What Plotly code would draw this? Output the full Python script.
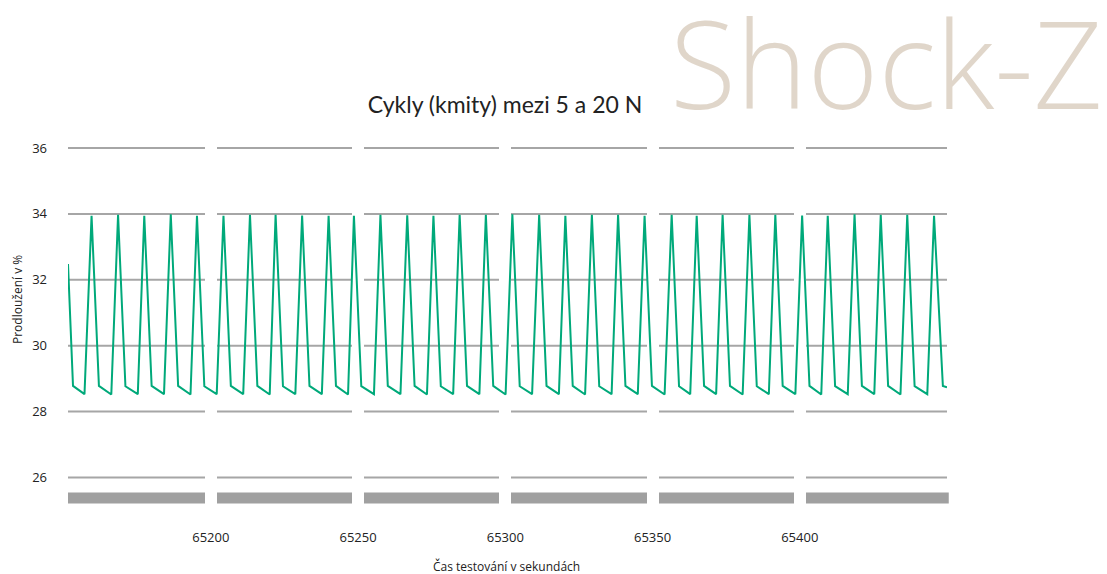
import plotly.graph_objects as go

# ---- data ----
time_s = [
    65151.5, 65153.2, 65157.1,
    65159.5, 65162.0, 65166.2,
    65168.5, 65171.0, 65175.2,
    65177.4, 65179.9, 65184.1,
    65186.4, 65188.9, 65193.1,
    65195.3, 65197.8, 65202.0,
    65204.3, 65206.8, 65211.0,
    65213.3, 65215.8, 65220.0,
    65222.0, 65224.5, 65228.7,
    65231.0, 65233.5, 65237.7,
    65240.0, 65242.5, 65246.6,
    65248.6, 65251.1, 65255.4,
    65257.6, 65260.1, 65264.4,
    65266.7, 65269.2, 65273.4,
    65275.6, 65278.1, 65282.3,
    65284.5, 65287.0, 65291.2,
    65293.4, 65295.9, 65300.1,
    65302.4, 65304.9, 65309.1,
    65311.5, 65314.0, 65318.2,
    65320.4, 65322.9, 65327.1,
    65329.4, 65331.9, 65336.1,
    65338.3, 65340.8, 65345.0,
    65347.3, 65349.8, 65354.1,
    65356.5, 65359.0, 65362.8,
    65365.0, 65367.5, 65371.6,
    65373.8, 65376.3, 65380.6,
    65382.9, 65385.4, 65389.5,
    65391.7, 65394.2, 65398.5,
    65400.8, 65403.3, 65407.3,
    65409.5, 65412.0, 65416.3,
    65418.6, 65421.1, 65425.3,
    65427.5, 65430.0, 65434.2,
    65436.5, 65439.0, 65443.3,
    65445.6, 65448.6, 65450.0,
]
elongation_pct = [
    32.48, 28.78, 28.53,
    33.94, 28.78, 28.52,
    33.97, 28.77, 28.53,
    33.94, 28.78, 28.53,
    33.99, 28.78, 28.52,
    33.94, 28.77, 28.53,
    33.94, 28.78, 28.53,
    33.97, 28.78, 28.52,
    33.97, 28.77, 28.53,
    33.95, 28.78, 28.53,
    33.94, 28.78, 28.52,
    33.94, 28.77, 28.53,
    33.97, 28.78, 28.53,
    33.96, 28.78, 28.52,
    33.94, 28.77, 28.53,
    33.97, 28.78, 28.53,
    33.97, 28.78, 28.52,
    33.99, 28.77, 28.53,
    33.97, 28.78, 28.53,
    33.94, 28.78, 28.52,
    33.97, 28.77, 28.53,
    33.97, 28.78, 28.53,
    33.94, 28.78, 28.52,
    33.97, 28.77, 28.53,
    33.94, 28.78, 28.53,
    33.97, 28.78, 28.52,
    33.97, 28.77, 28.53,
    33.97, 28.78, 28.53,
    33.95, 28.78, 28.52,
    33.94, 28.77, 28.53,
    33.99, 28.78, 28.53,
    33.97, 28.78, 28.52,
    33.97, 28.77, 28.53,
    33.94, 28.78, 28.74,
]
x_ticks = [65200, 65250, 65300, 65350, 65400]
x_tick_labels = ["65200", "65250", "65300", "65350", "65400"]
y_ticks = [26, 28, 30, 32, 34, 36]
y_tick_labels = ["26", "28", "30", "32", "34", "36"]

title_text = "Cykly (kmity) mezi 5 a 20 N"
brand_text = "Shock-Z"
x_title = "Čas testování v sekundách"
y_title = "Prodloužení v %"

GREEN = "#00A97A"
GRID = "#A6A6A6"
BAR = "#A0A0A0"
BRAND = "#E0D6CA"
TEXT = "#222222"

W, H = 1099, 566
L, R, T, B = 60, 160, 127, 69
PW, PH = W - L - R, H - T - B


def px_x(p):
    return (p - L) / PW


def px_y(p):
    return (H - B - p) / PH


fig = go.Figure()
fig.add_trace(go.Scatter(
    x=time_s, y=elongation_pct, mode="lines",
    line=dict(color=GREEN, width=2), hoverinfo="skip", showlegend=False,
))

# horizontal grey grid lines (below white vertical separators)
for yv in y_ticks:
    fig.add_shape(type="line", xref="paper", yref="y", x0=0, x1=1, y0=yv, y1=yv,
                  line=dict(color=GRID, width=2), layer="below")
# thick grey base bar
fig.add_shape(type="rect", xref="paper", yref="paper", x0=0, x1=1.002, y0=0.004, y1=0.034,
              line=dict(width=0), fillcolor=BAR, layer="below")

fig.update_layout(
    width=W, height=H,
    margin=dict(l=L, r=R, t=T, b=B),
    paper_bgcolor="white", plot_bgcolor="white",
    font=dict(family="Open Sans", color=TEXT),
    showlegend=False,
    title=dict(text=title_text, x=497 / W, xanchor="center", y=1 - 97 / H,
               yanchor="middle", font=dict(family="Lato", size=23, color=TEXT)),
    xaxis=dict(range=[65151.5, 65450.0], tickvals=x_ticks, ticktext=x_tick_labels,
               showgrid=True, gridcolor="white", gridwidth=12, zeroline=False,
               showline=False, ticks="", ticklabelstandoff=23,
               tickfont=dict(size=13, color=TEXT, family="Open Sans")),
    yaxis=dict(range=[25.165, 36.395], tickvals=y_ticks, ticktext=y_tick_labels,
               showgrid=False, zeroline=False, showline=False, ticks="",
               ticklabelstandoff=20,
               tickfont=dict(size=13, color=TEXT, family="Open Sans")),
    annotations=[
        dict(text=brand_text, xref="paper", yref="paper", x=px_x(1097), y=px_y(54),
             xanchor="right", yanchor="middle", showarrow=False,
             font=dict(family="Open Sans", weight=300, size=121, color=BRAND)),
        dict(text=x_title, xref="paper", yref="paper", x=px_x(498), y=px_y(558),
             xanchor="center", yanchor="middle", showarrow=False,
             font=dict(family="Open Sans", size=12, color=TEXT)),
        dict(text=y_title, xref="paper", yref="paper", x=px_x(9), y=px_y(292),
             xanchor="center", yanchor="middle", showarrow=False, textangle=-90,
             font=dict(family="Open Sans", size=12, color=TEXT)),
    ],
)

fig.write_html("out.html", config=dict(displayModeBar=False))
